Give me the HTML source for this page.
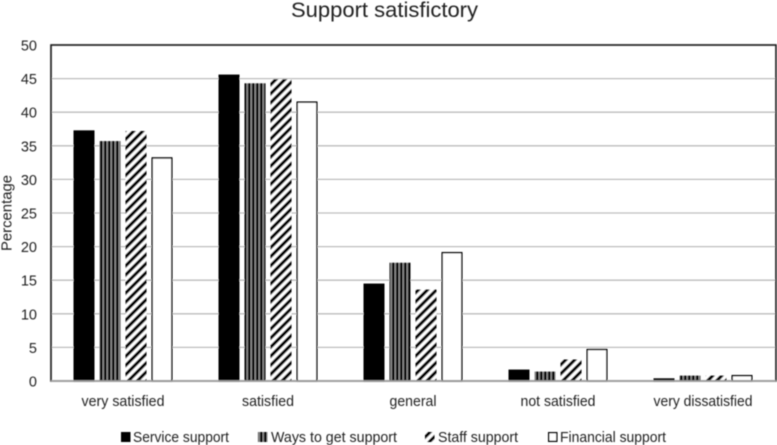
<!DOCTYPE html>
<html lang="en">
<head>
<meta charset="utf-8">
<title>Support satisfictory</title>
<style>
html,body{margin:0;padding:0;background:#fff;width:777px;height:445px;overflow:hidden}
svg{display:block}
text{font-family:"Liberation Sans",sans-serif;fill:#222}
</style>
</head>
<body>
<svg id="chart" xmlns="http://www.w3.org/2000/svg" width="777" height="445" viewBox="0 0 777 445">
  <defs>
    <filter id="soft" x="-5%" y="-5%" width="110%" height="110%"><feGaussianBlur stdDeviation="0.4"/></filter>
    <pattern id="pat-vertical" patternUnits="userSpaceOnUse" width="4" height="4">
      <rect width="4" height="4" fill="#8a8a8a"/>
      <rect width="2.4" height="4" fill="#000"/>
    </pattern>
    <pattern id="pat-diagonal" patternUnits="userSpaceOnUse" width="6.4" height="6.4" patternTransform="rotate(45)">
      <rect width="6.4" height="6.4" fill="#fff"/>
      <rect width="3.2" height="6.4" fill="#000"/>
    </pattern>
  </defs>
  <g id="root" filter="url(#soft)"></g>
</svg>
<script>
const categories = ["very satisfied", "satisfied", "general", "not satisfied", "very dissatisfied"];
const seriesNames = ["Service support", "Ways to get support", "Staff support", "Financial support"];
const serviceSupport = [37.3, 45.6, 14.5, 1.7, 0.4];
const waysToGetSupport = [35.7, 44.3, 17.6, 1.4, 0.8];
const staffSupport = [37.2, 44.9, 13.6, 3.2, 0.8];
const financialSupport = [33.3, 41.6, 19.2, 4.8, 0.9];
const yTicks = [0, 5, 10, 15, 20, 25, 30, 35, 40, 45, 50];
const titleText = "Support satisfictory";
const yAxisTitle = "Percentage";

const allSeries = [serviceSupport, waysToGetSupport, staffSupport, financialSupport];
const NS = "http://www.w3.org/2000/svg";
const root = document.getElementById("root");
const plot = { left: 51, right: 776, top: 45, bottom: 381 };
const yMax = yTicks[yTicks.length - 1];
const yScale = v => plot.bottom - (v / yMax) * (plot.bottom - plot.top);
const bandWidth = (plot.right - plot.left) / categories.length;
const barWidth = 21;
const barStep = 26;
const groupWidth = barStep * (allSeries.length - 1) + barWidth;
const barX = (c, s) => plot.left + c * bandWidth + (bandWidth - groupWidth) / 2 + s * barStep - 0.5;
const fills = ["#000", "url(#pat-vertical)", "url(#pat-diagonal)", "#fff"];
const strokes = ["#000", "none", "none", "#000"];

function make(tag, attrs, text) {
  const el = document.createElementNS(NS, tag);
  for (const k in attrs) el.setAttribute(k, attrs[k]);
  if (text !== undefined) el.textContent = text;
  root.appendChild(el);
  return el;
}

const title = make("text", { x: 291, y: 17, "font-size": 21, textLength: 187, lengthAdjust: "spacingAndGlyphs" }, titleText);



yTicks.forEach(t => {
  const y = yScale(t);
  if (t !== 0 && t !== yMax) {
    const line = make("line", { x1: plot.left, x2: plot.right, y1: y, y2: y, stroke: "#bdbdbd", "stroke-width": 1.3 });
    
    
  }
  const label = make("text", { x: 37, y: y + 5.5, "text-anchor": "end", "font-size": 14.5 }, String(t));
  
  
});

const yTitle = make("text", { x: 0, y: 0, transform: "translate(11.5 213) rotate(-90)", "text-anchor": "middle", "font-size": 15, textLength: 76, lengthAdjust: "spacingAndGlyphs" }, yAxisTitle);



const categoryLabelWidths = [83, 52, 47, 75, 99];
categories.forEach((cat, c) => {
  allSeries.forEach((vals, s) => {
    const top = yScale(vals[c]);
    const inset = strokes[s] === "none" ? 0 : 0.75;
    const bar = make("rect", {
      x: barX(c, s) + inset,
      y: top + inset,
      width: barWidth - inset * 2,
      height: Math.max(plot.bottom - top - inset, 0),
      fill: fills[s],
      stroke: strokes[s],
      "stroke-width": strokes[s] === "none" ? 0 : 1.5
    });
    
    
  });
  const catLabel = make("text", { x: plot.left + (c + 0.5) * bandWidth - 0.5, y: 406, "text-anchor": "middle", "font-size": 15, textLength: categoryLabelWidths[c], lengthAdjust: "spacingAndGlyphs" }, cat);
  
  
});

const frame = make("rect", { x: plot.left, y: plot.top, width: plot.right - plot.left, height: plot.bottom - plot.top, fill: "none", stroke: "#1a1a1a", "stroke-width": 1.6 });



const baseline = make("line", { x1: plot.left, x2: plot.right, y1: plot.bottom, y2: plot.bottom, stroke: "#a8a8a8", "stroke-width": 1.5 });



const legendSwatchX = [121, 258, 425, 548];
const legendTextX = [133, 271, 438, 560];
const legendTextW = [96, 126, 80, 106];
seriesNames.forEach((name, s) => {
  const inset = strokes[s] === "none" ? 0 : 0.75;
  const sw = make("rect", {
    x: legendSwatchX[s] + inset, y: 432 + inset,
    width: 9.5 - inset * 2, height: 10 - inset * 2,
    fill: fills[s], stroke: strokes[s],
    "stroke-width": strokes[s] === "none" ? 0 : 1.5
  });
  
  
  const lt = make("text", { x: legendTextX[s], y: 442, "font-size": 15, textLength: legendTextW[s], lengthAdjust: "spacingAndGlyphs" }, name);
  
  
});
</script>
</body>
</html>
